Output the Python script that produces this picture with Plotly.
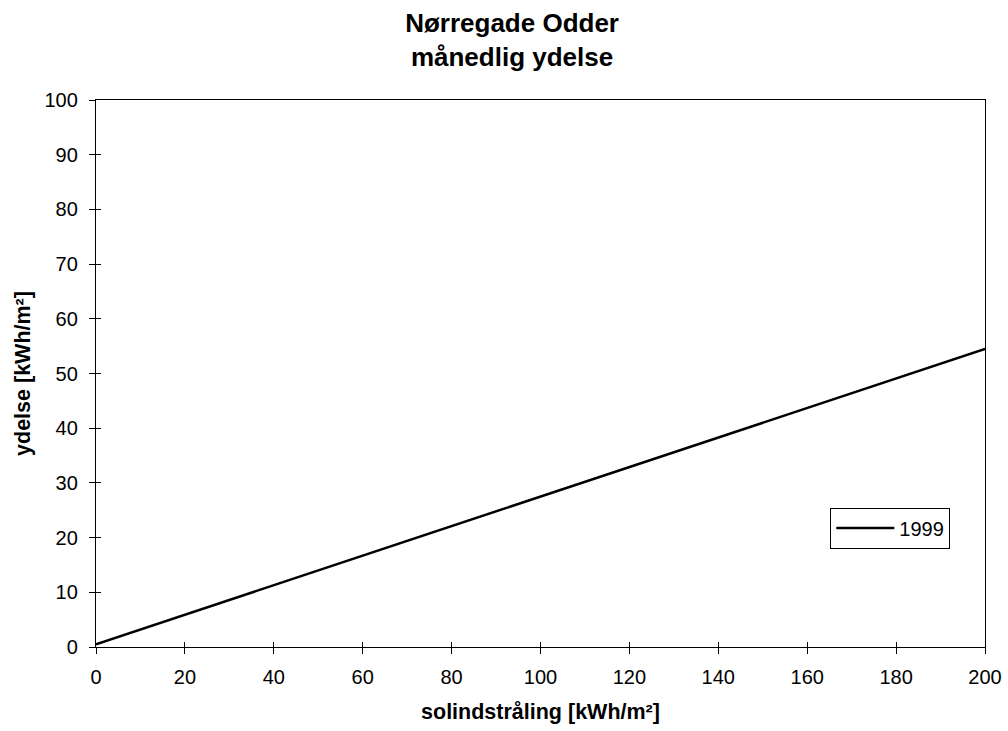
import plotly.graph_objects as go

# Monthly yield vs. solar irradiation, fitted line for 1999
irradiation = [0, 200]
yield_1999 = [0.5, 54.5]
series_name = "1999"

x_ticks = [0, 20, 40, 60, 80, 100, 120, 140, 160, 180, 200]
y_ticks = [0, 10, 20, 30, 40, 50, 60, 70, 80, 90, 100]

FONT = "Liberation Sans, Arial, sans-serif"
TICK_FONT = dict(family=FONT, size=20, color="black")
AXIS_TITLE_FONT = dict(family=FONT, size=21.5, color="black")

fig = go.Figure()
fig.add_trace(go.Scatter(
    x=irradiation, y=yield_1999, mode="lines", name=series_name,
    line=dict(color="black", width=2.5), showlegend=True,
))

axis_common = dict(
    showgrid=False, zeroline=False, showline=True, linecolor="black",
    linewidth=1.3, ticks="outside", ticklen=6, tickwidth=1, tickcolor="black",
    tickfont=TICK_FONT, mirror=True, automargin=False,
)

fig.update_layout(
    width=1008, height=731,
    paper_bgcolor="white", plot_bgcolor="white",
    margin=dict(l=96, r=23, t=100, b=84),
    title=dict(
        text="<b>Nørregade Odder<br>månedlig ydelse</b>",
        x=0.508, xanchor="center", xref="container",
        y=0.956, yanchor="top", yref="container",
        font=dict(family=FONT, size=26, color="black"),
    ),
    xaxis=dict(
        range=[0, 200], tickvals=x_ticks, ticklabelstandoff=6, **axis_common,
        title=dict(text="<b>solindstråling [kWh/m²]</b>", standoff=16,
                   font=AXIS_TITLE_FONT),
    ),
    yaxis=dict(
        range=[0, 100], tickvals=y_ticks, ticklabelstandoff=7, **axis_common,
        title=dict(text="<b>ydelse [kWh/m²]</b>", standoff=7,
                   font=AXIS_TITLE_FONT),
    ),
    # overlay axes supply the inner half of the crossing tick marks
    xaxis2=dict(range=[0, 200], tickvals=x_ticks, overlaying="x", side="bottom",
                showgrid=False, zeroline=False, showline=False, showticklabels=False,
                ticks="inside", ticklen=5, tickwidth=1, tickcolor="black"),
    yaxis2=dict(range=[0, 100], tickvals=y_ticks, overlaying="y", side="left",
                showgrid=False, zeroline=False, showline=False, showticklabels=False,
                ticks="inside", ticklen=5, tickwidth=1, tickcolor="black"),
    legend=dict(
        x=0.826, y=0.255, xanchor="left", yanchor="top",
        bgcolor="white", bordercolor="black", borderwidth=1,
        font=dict(family=FONT, size=20, color="black"),
        itemwidth=58, tracegroupgap=0,
    ),
)

# invisible trace anchoring the overlay axes
fig.add_trace(go.Scatter(x=[None], y=[None], xaxis="x2", yaxis="y2",
                         showlegend=False, hoverinfo="skip"))

fig.write_html("out.html")
